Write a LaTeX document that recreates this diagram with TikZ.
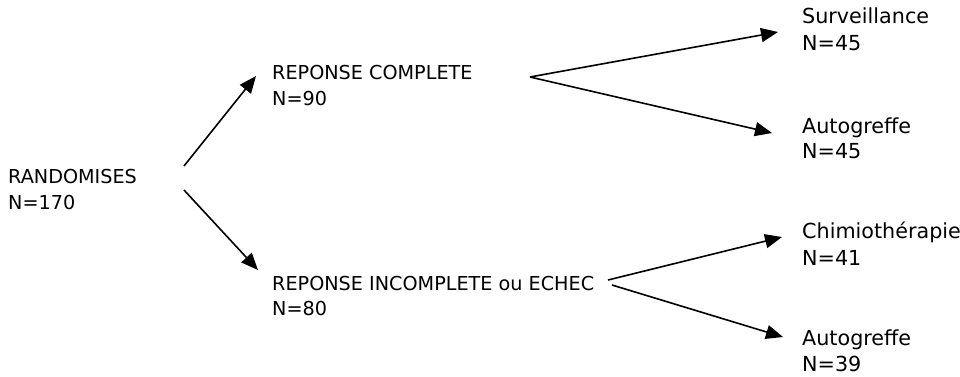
\documentclass[tikz,border=0pt]{standalone}
\usepackage{fontspec}
\setmainfont{DejaVu Sans}
\usetikzlibrary{arrows.meta}

\tikzset{
  lbl/.style={anchor=base west, inner sep=0pt, font=\fontsize{19.2}{22}\selectfont},
  lblbig/.style={anchor=base west, inner sep=0pt, font=\fontsize{20.7}{24}\selectfont},
  branch/.style={line width=1.6pt, -{Triangle[length=17pt,width=14pt]}},
}

\begin{document}
\begin{tikzpicture}[x=1pt,y=-1pt]
  \useasboundingbox (0,0) rectangle (960,376);

  % labels, each as a title line and a count line
  \node[lbl] (rand)   at (8,183)  {RANDOMISES};
  \node[lbl] (rand-n) at (8,209)  {N=170};

  \node[lbl] (rc)   at (272,79)  {REPONSE COMPLETE};
  \node[lbl] (rc-n) at (272,105) {N=90};

  \node[lbl] (ri)   at (272,290) {REPONSE INCOMPLETE ou ECHEC};
  \node[lbl] (ri-n) at (272,315) {N=80};

  \node[lblbig] (surv)   at (802,23)  {Surveillance};
  \node[lblbig] (surv-n) at (802,50)  {N=45};

  \node[lblbig] (autoA)   at (802,133) {Autogreffe};
  \node[lblbig] (autoA-n) at (802,158) {N=45};

  \node[lblbig] (chim)   at (802,238) {Chimiothérapie};
  \node[lblbig] (chim-n) at (802,265) {N=41};

  \node[lblbig] (autoB)   at (802,345) {Autogreffe};
  \node[lblbig] (autoB-n) at (802,371) {N=39};

  % connector end points
  \coordinate (rand-up)   at (184,166);
  \coordinate (rand-down) at (184,190);
  \coordinate (rc-in)     at (256,76);
  \coordinate (ri-in)     at (258,270);
  \coordinate (rc-fork)   at (530,77);
  \coordinate (ri-fork-a) at (608,280);
  \coordinate (ri-fork-b) at (612,285);
  \coordinate (surv-in)   at (778,32);
  \coordinate (autoA-in)  at (772,133);
  \coordinate (chim-in)   at (782,237);
  \coordinate (autoB-in)  at (783,337);

  % randomisation branches
  \draw[branch] (rand-up) -- (rc-in);
  \draw[branch] (rand-down) -- (ri-in);

  % complete response branches
  \draw[branch] (rc-fork) -- (surv-in);
  \draw[branch] (rc-fork) -- (autoA-in);

  % incomplete response / failure branches
  \draw[branch] (ri-fork-a) -- (chim-in);
  \draw[branch] (ri-fork-b) -- (autoB-in);
\end{tikzpicture}
\end{document}
